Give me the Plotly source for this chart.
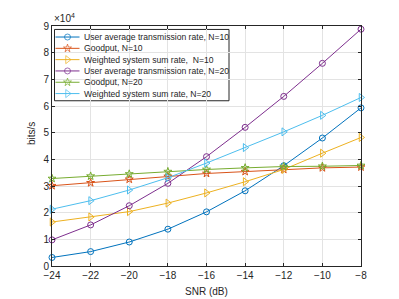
import plotly.graph_objects as go

snr = [-24, -22, -20, -18, -16, -14, -12, -10, -8]

user_avg_n10 = [3200, 5400, 9000, 13800, 20300, 28200, 37600, 48000, 59300]
goodput_n10 = [30100, 31200, 32500, 33600, 34700, 35400, 36200, 36800, 37100]
weighted_n10 = [16500, 18400, 20400, 23600, 27400, 31600, 36200, 42300, 48200]
user_avg_n20 = [9800, 15400, 22600, 31000, 41000, 52000, 63600, 76000, 88800]
goodput_n20 = [32800, 33700, 34500, 35400, 36200, 36800, 37300, 37400, 37700]
weighted_n20 = [21300, 24500, 28500, 33100, 38600, 44400, 50300, 56500, 63200]

series_names = [
    "User average transmission rate, N=10",
    "Goodput, N=10",
    "Weighted system sum rate,  N=10",
    "User average transmission rate, N=20",
    "Goodput, N=20",
    "Weighted system sum rate, N=20",
]
series_values = [user_avg_n10, goodput_n10, weighted_n10, user_avg_n20, goodput_n20, weighted_n20]
colors = ["#0072BD", "#D95319", "#EDB120", "#7E2F8E", "#77AC30", "#4DBEEE"]
symbols = ["circle-open", "star-open", "triangle-right-open",
           "circle-open", "star-open", "triangle-right-open"]
sizes = [6, 6, 7, 6, 6, 7]

y_tickvals = [i * 10000 for i in range(10)]
y_ticktext = [str(i) for i in range(10)]
x_tickvals = list(range(-24, -7, 2))

AX = "#262626"
FONT = "Liberation Sans, Arial, sans-serif"

fig = go.Figure()
for name, vals, c, s, sz in zip(series_names, series_values, colors, symbols, sizes):
    fig.add_trace(go.Scatter(
        x=snr, y=vals, mode="lines+markers", name=name, showlegend=False,
        line=dict(color=c, width=1),
        marker=dict(symbol=s, size=sz, color=c, line=dict(color=c, width=1)),
        cliponaxis=False,
    ))

# Manual legend (pixel-like overlay axes inside plot area)
PW, PH = 309, 244
lg_left, lg_top, lg_right, lg_bottom = 2.5, 3.5, 177, 76
row0, row_h = 11.2, 11.5
for i, (name, c, s, sz) in enumerate(zip(series_names, colors, symbols, sizes)):
    yy = row0 + i * row_h
    fig.add_trace(go.Scatter(
        x=[3.5, 15.5, 27.5], y=[yy, yy, yy], mode="lines+markers", showlegend=False,
        xaxis="x2", yaxis="y2", hoverinfo="skip",
        line=dict(color=c, width=1),
        marker=dict(symbol=s, size=[0, sz, 0], color=c, line=dict(color=c, width=1)),
    ))
    fig.add_annotation(xref="x2", yref="y2", x=29.5, y=yy, text=name, showarrow=False,
                       xanchor="left", yanchor="middle",
                       font=dict(size=8.6, color=AX, family=FONT))
fig.add_shape(type="rect", xref="x2", yref="y2", x0=lg_left, x1=lg_right,
              y0=lg_top, y1=lg_bottom, line=dict(color=AX, width=1),
              fillcolor="white", layer="below")

fig.update_layout(
    width=391, height=291,
    margin=dict(l=44, r=38, t=14, b=33),
    paper_bgcolor="white", plot_bgcolor="white",
    font=dict(family=FONT, size=10, color=AX),
    xaxis=dict(range=[-24, -8], tickvals=x_tickvals, ticks="inside", ticklen=3,
               tickcolor=AX, showline=True, linecolor=AX, linewidth=1, mirror="ticks",
               showgrid=True, gridcolor="#e3e3e3", gridwidth=1, zeroline=False,
               tickfont=dict(size=10, color=AX)),
    yaxis=dict(range=[0, 90000], tickvals=y_tickvals, ticktext=y_ticktext,
               ticks="inside", ticklen=3, tickcolor=AX, showline=True, linecolor=AX,
               linewidth=1, mirror="ticks", showgrid=True, gridcolor="#e3e3e3",
               gridwidth=1, zeroline=False, tickfont=dict(size=10, color=AX)),
    xaxis2=dict(range=[0, PW], overlaying="x", visible=False, fixedrange=True),
    yaxis2=dict(range=[PH, 0], overlaying="y", visible=False, fixedrange=True),
    showlegend=False,
)

fig.add_annotation(xref="paper", yref="paper", x=0, y=1, xanchor="left", yanchor="bottom",
                   text="×10<sup>4</sup>", showarrow=False, yshift=0,
                   font=dict(size=10, color=AX, family=FONT))
fig.add_annotation(xref="paper", yref="paper", x=0, y=0.55, xshift=-20, xanchor="center",
                   yanchor="middle", text="bits/s", textangle=-90, showarrow=False,
                   font=dict(size=10, color=AX, family=FONT))
fig.add_annotation(xref="paper", yref="paper", x=0.5, y=0, yshift=-25, xanchor="center",
                   yanchor="middle", text="SNR (dB)", showarrow=False,
                   font=dict(size=10, color=AX, family=FONT))

fig.write_html("out.html")
